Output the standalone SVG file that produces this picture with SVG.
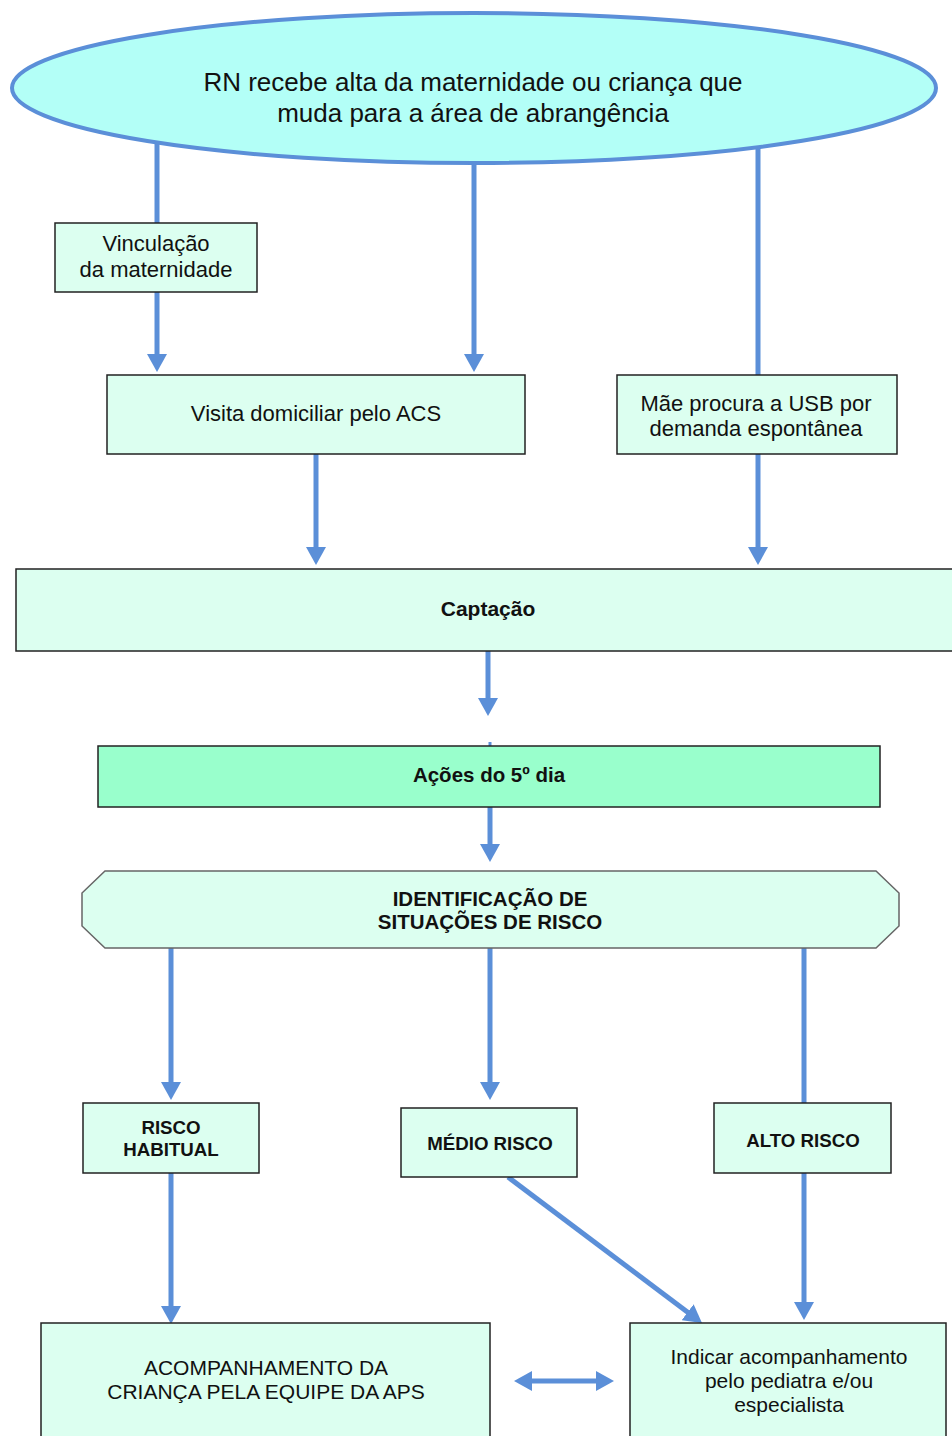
<svg xmlns="http://www.w3.org/2000/svg" width="952" height="1436" viewBox="0 0 952 1436">
<style>
.box{fill:#dcfff0;stroke:#222;stroke-width:1.5}
.t{font-family:"Liberation Sans",Arial,sans-serif;font-size:22px;fill:#111;text-anchor:middle}
.b{font-weight:bold}
.c{stroke:#5b8fd8;stroke-width:5;fill:none}
</style>
<defs>
<marker id="ah" viewBox="0 0 18 20" refX="8" refY="10" markerWidth="18" markerHeight="20" markerUnits="userSpaceOnUse" orient="auto-start-reverse">
<path d="M0,0 L18,10 L0,20 z" fill="#5b8fd8"/>
</marker>
</defs>
<rect width="952" height="1436" fill="#fff"/>
<g id="connectors">
<line class="c" x1="157" y1="140" x2="157" y2="223"/>
<line class="c" x1="157" y1="292" x2="157" y2="362" marker-end="url(#ah)"/>
<line class="c" x1="474" y1="160" x2="474" y2="362" marker-end="url(#ah)"/>
<line class="c" x1="758" y1="145" x2="758" y2="375"/>
<line class="c" x1="316" y1="454" x2="316" y2="555" marker-end="url(#ah)"/>
<line class="c" x1="758" y1="454" x2="758" y2="555" marker-end="url(#ah)"/>
<line class="c" x1="488" y1="651" x2="488" y2="706" marker-end="url(#ah)"/>
<line class="c" x1="490" y1="742" x2="490" y2="746" style="stroke-width:3"/>
<line class="c" x1="490" y1="807" x2="490" y2="852" marker-end="url(#ah)"/>
<line class="c" x1="171" y1="948" x2="171" y2="1090" marker-end="url(#ah)"/>
<line class="c" x1="490" y1="948" x2="490" y2="1090" marker-end="url(#ah)"/>
<line class="c" x1="804" y1="948" x2="804" y2="1103"/>
<line class="c" x1="171" y1="1173" x2="171" y2="1314" marker-end="url(#ah)"/>
<line class="c" x1="804" y1="1173" x2="804" y2="1310" marker-end="url(#ah)"/>
<line class="c" x1="508" y1="1177" x2="694" y2="1317" marker-end="url(#ah)"/>
<line class="c" x1="524" y1="1381" x2="604" y2="1381" marker-start="url(#ah)" marker-end="url(#ah)"/>
</g>
<g id="start">
<ellipse cx="474" cy="88" rx="462" ry="75" fill="#b3fff7" stroke="#5b8fd8" stroke-width="4"/>
<text class="t" x="473" y="91" style="font-size:26px">RN recebe alta da maternidade ou criança que</text>
<text class="t" x="473" y="122" style="font-size:26px">muda para a área de abrangência</text>
</g>
<g id="vinculacao">
<rect class="box" x="55" y="223" width="202" height="69"/>
<text class="t" x="156" y="251">Vinculação</text>
<text class="t" x="156" y="277">da maternidade</text>
</g>
<g id="visita">
<rect class="box" x="107" y="375" width="418" height="79"/>
<text class="t" x="316" y="421">Visita domiciliar pelo ACS</text>
</g>
<g id="mae">
<rect class="box" x="617" y="375" width="280" height="79"/>
<text class="t" x="756" y="411">Mãe procura a USB por</text>
<text class="t" x="756" y="436">demanda espontânea</text>
</g>
<g id="captacao">
<rect class="box" x="16" y="569" width="950" height="82"/>
<text class="t b" x="488" y="616" style="font-size:21px">Captação</text>
</g>
<g id="acoes">
<rect class="box" x="98" y="746" width="782" height="61" style="fill:#99ffcc"/>
<text class="t b" x="489" y="782" style="font-size:20.5px">Ações do 5º dia</text>
</g>
<g id="identificacao">
<path d="M105,871 H876 L899,893 V926 L876,948 H105 L82,926 V893 Z" fill="#dcfff0" stroke="#666" stroke-width="1.5"/>
<text class="t b" x="490" y="906" style="font-size:20.5px">IDENTIFICAÇÃO DE</text>
<text class="t b" x="490" y="929" style="font-size:20.5px">SITUAÇÕES DE RISCO</text>
</g>
<g id="habitual">
<rect class="box" x="83" y="1103" width="176" height="70"/>
<text class="t b" x="171" y="1134" style="font-size:18.7px">RISCO</text>
<text class="t b" x="171" y="1156" style="font-size:18.7px">HABITUAL</text>
</g>
<g id="medio">
<rect class="box" x="401" y="1108" width="176" height="69"/>
<text class="t b" x="490" y="1150" style="font-size:18.7px">MÉDIO RISCO</text>
</g>
<g id="alto">
<rect class="box" x="714" y="1103" width="177" height="70"/>
<text class="t b" x="803" y="1147" style="font-size:18.7px">ALTO RISCO</text>
</g>
<g id="acompanhamento">
<rect class="box" x="41" y="1323" width="449" height="130"/>
<text class="t" x="266" y="1375" style="font-size:21px">ACOMPANHAMENTO DA</text>
<text class="t" x="266" y="1399" style="font-size:21px">CRIANÇA PELA EQUIPE DA APS</text>
</g>
<g id="indicar">
<rect class="box" x="630" y="1323" width="316" height="130"/>
<text class="t" x="789" y="1364" style="font-size:21px">Indicar acompanhamento</text>
<text class="t" x="789" y="1388" style="font-size:21px">pelo pediatra e/ou</text>
<text class="t" x="789" y="1412" style="font-size:21px">especialista</text>
</g>
</svg>
